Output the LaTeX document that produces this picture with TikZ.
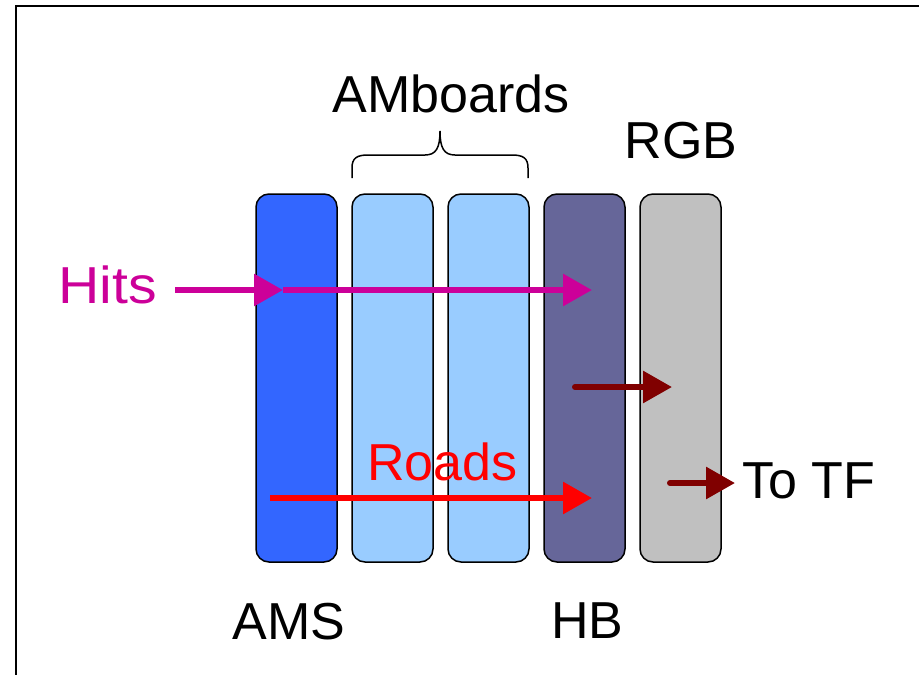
\documentclass[tikz,border=0pt]{standalone}
\usepackage{fontspec}
\setmainfont{Liberation Sans}
\usetikzlibrary{arrows.meta}
\definecolor{amsblue}{HTML}{3366FF}
\definecolor{amblue}{HTML}{99CCFF}
\definecolor{hbslate}{HTML}{666699}
\definecolor{rgbgray}{HTML}{C0C0C0}
\definecolor{hitcol}{HTML}{CC0099}
\definecolor{roadcol}{HTML}{FF0000}
\definecolor{outcol}{HTML}{800000}
\tikzset{
  board/.style={draw=black, line width=1.5pt, rounded corners=13pt,
    minimum width=81pt, minimum height=368pt, inner sep=0pt},
  lbl/.style={font=\fontsize{52}{60}\selectfont, inner sep=0pt, anchor=base},
  flow/.style={line width=6pt, -{Triangle[length=29pt,width=31pt]}},
  outflow/.style={flow, color=outcol, line cap=round},
}
\begin{document}
\begin{tikzpicture}[x=1pt,y=-1pt]
\useasboundingbox (0,0) rectangle (919,675);
\clip (0,0) rectangle (919,675);
% outer frame (right and bottom edges fall off the page)
\draw[line width=2pt] (16,690) -- (16,6) -- (940,6);

% boards
\node[board, fill=amsblue] (ams) at (296.5,378) {};
\node[board, fill=amblue]  (am1) at (392.5,378) {};
\node[board, fill=amblue]  (am2) at (488.5,378) {};
\node[board, fill=hbslate] (hb)  at (584.5,378) {};
\node[board, fill=rgbgray] (rgb) at (680.5,378) {};

% labels
\node[lbl] (amboards) at (451,112) {AMboards};
\node[lbl] (rgblbl) at (681,158) {RGB};
\node[lbl] (amslbl) at (289,639) {AMS};
\node[lbl] (hblbl) at (587.5,638) {HB};
\node[lbl, text=hitcol, xscale=1.1] (hits) at (107.5,303) {Hits};
\node[lbl, text=roadcol] (roads) at (442.5,480) {Roads};
\node[lbl, anchor=base west] (totf) at (742,498) {To TF};

% brace over the AM boards
\draw[line width=1.5pt]
  (352,178) -- (352,168) .. controls (352,158) and (357,155) .. (368,155)
  -- (425,155) .. controls (436,155) and (440,148) .. (440,131)
  .. controls (440,148) and (444,155) .. (455,155)
  -- (512,155) .. controls (523,155) and (528,158) .. (528,168) -- (528,178);

% connector end points
\coordinate (hitsout) at (175,290);
\coordinate (amsin)   at (283,290);
\coordinate (hbin)    at (592,290);
\coordinate (roadsrc) at (270,498);
\coordinate (roaddst) at (592,498);
\coordinate (hbout)   at (575,387);
\coordinate (rgbin)   at (672,387);
\coordinate (rgbout)  at (670,483);
\coordinate (tfin)    at (735,483);

% data flow
\draw[flow, color=hitcol] (hitsout) -- (amsin);
\draw[flow, color=hitcol] (amsin) -- (hbin);
\draw[flow, color=roadcol] (roadsrc) -- (roaddst);
\draw[outflow] (hbout) -- (rgbin);
\draw[outflow] (rgbout) -- (tfin);
\end{tikzpicture}
\end{document}
